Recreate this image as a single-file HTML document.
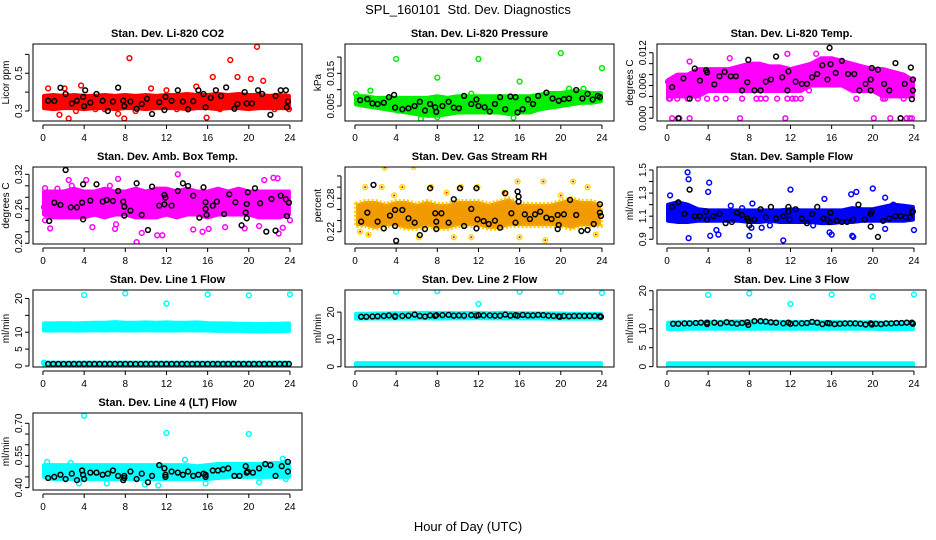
<!DOCTYPE html>
<html><head><meta charset="utf-8"><style>
html,body{margin:0;padding:0;background:#fff}
svg{display:block;font-family:"Liberation Sans",sans-serif}
</style></head><body>
<svg id="chart" width="936" height="540" viewBox="0 0 936 540" xmlns="http://www.w3.org/2000/svg">
<rect width="936" height="540" fill="#fff"/>
<text x="468" y="14" font-size="13" text-anchor="middle" style="white-space:pre">SPL_160101  Std. Dev. Diagnostics</text>
<text x="468" y="531" font-size="13" text-anchor="middle">Hour of Day (UTC)</text>
<g id="panels"></g>
</svg>
<script>
const xTicks=[0,4,8,12,16,20,24];
const H=[0,1,2,3,4,5,6,7,8,9,10,11,12,13,14,15,16,17,18,19,20,21,22,23,24];
const H2=[0,24];

// Panel 1 CO2
const co2Lo=[.315,.31,.315,.315,.31,.315,.315,.31,.315,.315,.31,.315,.315,.315,.31,.315,.315,.31,.315,.315,.31,.315,.315,.315,.315];
const co2Hi=[.38,.385,.38,.385,.38,.38,.385,.38,.385,.38,.385,.38,.385,.385,.39,.385,.385,.39,.385,.39,.385,.385,.38,.385,.38];
const co2Black=[[0.5,.354],[1.1,.353],[1.7,.423],[2.2,.39],[2.8,.34],[3.3,.354],[3.9,.375],[4.0,.326],[4.1,.41],[4.6,.344],[5.2,.39],[5.8,.354],[6.3,.30],[6.8,.35],[7.3,.424],[7.8,.355],[7.9,.326],[8.5,.35],[9.1,.312],[9.6,.337],[10.1,.365],[10.6,.284],[11.3,.347],[11.8,.305],[11.9,.375],[12.5,.354],[13.1,.41],[13.6,.35],[14.1,.309],[14.6,.352],[15.1,.41],[15.6,.39],[15.8,.32],[16.3,.37],[16.8,.41],[17.3,.38],[17.8,.425],[18.6,.312],[18.9,.337],[19.6,.40],[19.8,.34],[20.3,.34],[20.9,.41],[21.3,.39],[22.1,.28],[22.6,.38],[23.1,.41],[23.6,.41],[23.8,.35],[23.7,.32]];
const co2Extra=[[0.5,.42],[1.6,.28],[2.1,.42],[2.5,.26],[3.7,.435],[5.1,.31],[7.3,.285],[7.9,.26],[8.4,.58],[10.5,.42],[12,.41],[14.9,.43],[15.9,.265],[16.5,.48],[18.2,.57],[18.9,.48],[20.2,.47],[20.8,.64],[21.4,.46],[23.9,.31],[3.2,.30],[6,.31],[9,.30],[13,.31],[17.2,.31],[22.5,.31]];

// Panel 2 pressure
const prLo=[.0055,.005,.0045,.004,.0035,.003,.0025,.002,.002,.0025,.003,.003,.003,.003,.003,.0025,.003,.003,.004,.0045,.005,.0055,.006,.006,.0065];
const prHi=[.008,.008,.0075,.0075,.0075,.0075,.0075,.0075,.008,.0075,.008,.008,.008,.008,.008,.008,.008,.008,.0085,.009,.009,.0095,.0095,.009,.009];
const prBlack=[[0.5,.0068],[1.2,.0071],[1.7,.0058],[2.2,.0056],[2.8,.006],[3.3,.0077],[3.8,.0084],[3.9,.0045],[4.6,.004],[5.2,.0043],[5.8,.005],[6.3,.0063],[6.8,.0036],[7.3,.0056],[7.8,.0046],[7.9,.0032],[8.5,.005],[9.1,.0063],[9.6,.0045],[10.1,.0043],[10.6,.0081],[11.3,.0056],[11.8,.007],[12,.005],[12.6,.0046],[13.1,.0033],[13.6,.0056],[14.1,.0077],[14.6,.004],[15.1,.0079],[15.6,.0077],[15.8,.003],[16.3,.004],[16.8,.007],[17.3,.0056],[17.8,.0081],[18.6,.0091],[19.2,.0073],[19.8,.0066],[20.3,.0071],[20.8,.0073],[21.5,.0099],[22.1,.0073],[22.6,.0087],[23.1,.007],[23.6,.0081],[23.8,.0077]];
const prExtra=[[0.1,.0087],[0.3,.0079],[1.5,.0097],[4,.0194],[8,.0137],[12,.0194],[16,.0125],[20,.0212],[24,.0166],[20.8,.0103],[22.2,.0103],[6.4,.0011],[15.4,.0014],[8,.0016],[4.2,.0036],[11.3,.0088]];

// Panel 3 Li-820 temp
const ltLo=[.004,.004,.004,.004,.005,.005,.005,.005,.005,.005,.005,.005,.005,.005,.006,.006,.006,.006,.005,.005,.005,.004,.004,.004,.004];
const ltHi=[.007,.008,.008,.009,.009,.009,.009,.0095,.01,.01,.0095,.0095,.009,.0095,.01,.011,.011,.0105,.01,.0095,.009,.009,.0085,.008,.007];
const ltBlack=[[0.5,.0057],[1.1,0],[1.6,.0073],[2.2,.0036],[2.7,.0091],[3.2,.0069],[3.8,.0088],[3.9,.0084],[4.6,.0062],[5.1,.0077],[5.6,.0085],[6.2,.0077],[6.7,.0077],[7.3,.0051],[7.8,.0066],[7.9,.0107],[8.5,.0051],[9.1,.0051],[9.6,.0067],[10.1,.0071],[10.6,.0113],[11.2,.0075],[11.7,.0051],[11.8,.0086],[12.5,.0067],[13.1,.0063],[13.6,.0063],[14.1,.0075],[14.6,.0081],[15.1,.0097],[15.6,.0071],[15.8,.0129],[15.9,.0099],[16.4,.0083],[17.0,.0105],[17.6,.0081],[18.2,.0081],[18.7,.0051],[19.3,.0063],[19.8,.0051],[19.8,.0071],[19.9,.0092],[20.5,.0089],[21.1,.0063],[21.6,.0051],[22.2,.0101],[22.7,0],[23.1,.0063],[23.7,.0093],[23.8,.0035],[23.9,.0071],[23.9,.0051]];
const ltExtra=[[0.1,.0067],[0.2,.0036],[0.5,0],[1.2,0],[2.2,0],[2.2,.0104],[3.9,.0036],[4.8,.0036],[6.1,.011],[7.1,0],[7.3,.0036],[10.7,.0036],[11.5,0],[11.7,.0036],[11.7,.0118],[13.8,.0051],[14.5,.0118],[18.4,.0036],[20.1,0],[21.2,.0036],[21.7,0],[22.7,0],[23.3,0],[23.6,0],[23.8,0],[12.5,.0036],[9.6,.0036],[5.7,.0036],[0.3,.0036],[1,.0036],[2,.0036],[3,.0036],[8.7,.0036],[9.1,.0036],[12.2,.0036],[13,.0036],[21,.0036],[23,.0036]];

// Panel 4 amb box temp
const abLo=[.25,.245,.245,.245,.245,.25,.245,.25,.25,.245,.245,.245,.25,.245,.25,.25,.245,.25,.25,.25,.25,.245,.245,.245,.25];
const abHi=[.29,.29,.29,.295,.29,.29,.295,.29,.29,.295,.29,.295,.295,.29,.295,.29,.29,.295,.29,.295,.29,.29,.29,.29,.29];
const abBlack=[[0.6,.2388],[1.1,.2707],[1.7,.2667],[2.2,.3275],[2.7,.2626],[3.3,.2626],[3.8,.2707],[3.9,.2417],[3.9,.3026],[4.6,.2742],[5.2,.3026],[5.8,.2725],[6.2,.2754],[6.8,.2736],[7.3,.291],[7.8,.2725],[7.9,.2638],[7.9,.2481],[8.5,.2568],[9.1,.3043],[9.6,.2493],[10.2,.2232],[10.6,.2986],[11.3,.2655],[11.8,.2841],[11.8,.2678],[11.9,.2794],[12.5,.2655],[13.1,.291],[13.6,.3043],[14.1,.2997],[14.6,.2829],[15.2,.2446],[15.6,.2974],[15.8,.2713],[15.8,.2597],[15.9,.2493],[16.5,.2655],[16.9,.2725],[17.6,.251],[18.1,.2852],[18.7,.2713],[19.3,.2313],[19.7,.2533],[19.8,.2684],[19.8,.2435],[19.9,.2887],[20.6,.2957],[21.1,.2696],[21.7,.2203],[22.2,.2771],[22.6,.222],[23.1,.2829],[23.6,.2765],[23.7,.2475],[23.9,.2707]];
const abExtra=[[0.1,.263],[0.2,.24],[0.2,.296],[0.7,.226],[2.5,.31],[4.2,.31],[4.8,.228],[7,.225],[7.1,.233],[7.3,.312],[9.1,.202],[9.6,.218],[11.1,.214],[11.6,.214],[13.1,.32],[14.6,.224],[15.5,.22],[16.1,.225],[17.7,.228],[19.6,.226],[21,.23],[21.5,.31],[22.4,.314],[22.8,.313],[22.9,.217],[23.3,.227],[24,.24],[1.4,.295],[2.8,.30],[6.5,.30]];

// Panel 5 RH
const rhLo=[.23,.23,.225,.23,.23,.225,.225,.23,.225,.225,.23,.23,.23,.225,.225,.23,.23,.23,.23,.23,.23,.225,.23,.23,.23];
const rhHi=[.27,.275,.275,.27,.275,.275,.27,.275,.27,.27,.275,.275,.275,.27,.275,.28,.27,.27,.27,.27,.275,.28,.275,.275,.27];
const rhBlack=[[0.6,.238],[1.2,.2542],[1.8,.304],[2.2,.238],[2.8,.226],[3.4,.2488],[3.9,.259],[3.9,.2302],[4.0,.2038],[4.6,.259],[5.2,.244],[5.8,.2362],[6.3,.214],[6.8,.2248],[7.3,.298],[7.8,.253],[7.9,.2248],[7.9,.238],[8.4,.253],[9.1,.2362],[9.6,.2782],[10.2,.298],[10.6,.2302],[11.3,.2608],[11.8,.298],[11.8,.226],[11.9,.2422],[12.5,.2392],[13.0,.2338],[13.6,.2398],[14.1,.2272],[14.6,.289],[15.2,.253],[15.6,.2362],[15.8,.292],[15.9,.274],[15.9,.283],[16.5,.2512],[17.0,.2428],[17.5,.2512],[18.0,.256],[18.6,.2452],[19.1,.2428],[19.7,.25],[19.7,.2248],[19.8,.232],[20.3,.2512],[20.9,.277],[21.5,.25],[22.0,.2212],[22.6,.223],[23.2,.2338],[23.8,.2692],[23.8,.2542],[23.9,.2482]];
const rhExtra=[[2.9,.335],[5.7,.336],[1,.30],[2.6,.30],[4.6,.30],[7.4,.30],[8.9,.29],[10.3,.30],[11.9,.30],[14.5,.29],[15.8,.31],[18.3,.31],[21.2,.31],[22.6,.30],[0.5,.22],[1.3,.215],[6.2,.21],[9.6,.21],[11.3,.21],[16.0,.21],[18.5,.205],[23.4,.215],[3.8,.285],[20,.285]];

// Panel 6 sample flow
const sfLo=[1.06,1.05,1.05,1.06,1.06,1.06,1.06,1.06,1.05,1.05,1.06,1.05,1.05,1.05,1.05,1.04,1.04,1.05,1.05,1.06,1.06,1.06,1.06,1.06,1.07];
const sfHi=[1.2,1.22,1.2,1.16,1.15,1.15,1.15,1.15,1.15,1.15,1.15,1.15,1.16,1.15,1.15,1.15,1.15,1.15,1.17,1.16,1.16,1.18,1.2,1.19,1.18];
const sfBlack=[[0.5,1.18],[1.1,1.22],[1.7,1.12],[2.2,1.33],[2.7,1.10],[3.2,1.10],[3.8,1.14],[3.9,1.07],[4.5,1.10],[5.1,1.12],[5.7,1.04],[6.3,1.05],[6.8,1.13],[7.3,1.11],[7.8,1.08],[7.9,1.06],[8.0,1.02],[8.5,1.07],[9.1,1.16],[9.6,1.09],[10.1,1.18],[10.6,1.08],[11.3,1.10],[11.8,1.18],[11.8,1.14],[11.9,1.07],[12.5,1.16],[13.1,1.08],[13.6,1.04],[14.1,1.12],[14.6,1.18],[15.2,1.08],[15.6,1.07],[15.8,1.05],[15.9,1.13],[16.5,1.06],[17,1.05],[17.5,1.05],[18.1,1.07],[18.6,1.20],[19.2,1.07],[19.8,1.01],[19.8,1.12],[19.9,1.14],[20.5,0.92],[21,1.06],[21.6,1.08],[22.2,1.10],[22.7,1.10],[23.2,1.09],[23.6,1.09],[23.8,1.14],[23.9,1.14]];
const sfExtra=[[2,1.48],[2.1,1.42],[2.1,.91],[4.1,1.39],[4.0,1.31],[4.2,.93],[4.8,.98],[5.0,.94],[0.3,1.28],[8,.93],[8.3,1.21],[8.2,1.0],[11.3,.89],[12.0,1.33],[15.3,1.25],[15.8,.96],[16.0,.94],[18,.93],[18.1,.92],[17.9,1.29],[18.4,1.31],[20,1.34],[21.2,1.26],[21.2,.99],[24,.98],[9.2,1.0],[14.2,1.02],[6.2,1.19],[7.3,1.17],[10,1.02],[22,1.2]];

// Panel 7 line 1
const l1Lo=[10.5,10.5,10.6,10.5,10.5,10.6,10.5,10.6,10.5,10.5,10.6,10.5,10.5,10.5,10.6,10.5,10.5,10.4,10.4,10.4,10.3,10.2,10.3,10.3,10.4];
const l1Hi=[12.6,12.6,12.7,12.6,12.7,12.8,12.8,13.0,12.8,12.8,12.9,12.8,12.9,12.8,12.8,12.9,12.7,12.6,12.6,12.5,12.5,12.4,12.5,12.5,12.6];
const l1ZeroLo=[0.1,0.1];
const l1ZeroHi=[1.0,1.0];
const l1Black=[[0.5,.6],[1,.6],[1.5,.6],[2,.6],[2.5,.6],[3,.6],[3.5,.6],[4,.6],[4.5,.6],[5,.6],[5.5,.6],[6,.6],[6.5,.6],[7,.6],[7.5,.6],[8,.6],[8.5,.6],[9,.6],[9.5,.6],[10,.6],[10.5,.6],[11,.6],[11.5,.6],[12,.6],[12.5,.6],[13,.6],[13.5,.6],[14,.6],[14.5,.6],[15,.6],[15.5,.6],[16,.6],[16.5,.6],[17,.6],[17.5,.6],[18,.6],[18.5,.6],[19,.6],[19.5,.6],[20,.6],[20.5,.6],[21,.6],[21.5,.6],[22,.6],[22.5,.6],[23,.6],[23.5,.6],[23.9,.6]];
const l1Extra=[[4,21],[8,21.5],[12,18.5],[16,21.2],[20,20.9],[24,21.2],[0.1,1]];

// Panel 8 line 2
const l2Lo=[17.6,17.6,17.7,17.6,17.7,17.6,17.7,17.7,17.6,17.7,17.7,17.7,17.8,17.7,17.7,17.7,17.7,17.7,17.7,17.6,17.6,17.6,17.6,17.6,17.6];
const l2Hi=[19.4,19.4,19.5,19.5,19.6,19.6,19.7,19.7,19.7,19.7,19.6,19.7,19.7,19.6,19.7,19.7,19.6,19.6,19.5,19.5,19.5,19.4,19.4,19.4,19.4];
const l2ZeroLo=[0.1,0.1];
const l2ZeroHi=[1.3,1.3];
const l2Black=[[0.6,18.3],[1.1,18.3],[1.7,18.4],[2.2,18.5],[2.8,18.6],[3.3,18.8],[3.9,18.6],[3.9,18.3],[4.6,18.6],[5.2,18.7],[5.8,19.1],[6.3,18.6],[6.8,18.4],[7.3,18.8],[7.8,18.6],[7.9,18.9],[8.5,18.9],[9.1,19.0],[9.6,18.7],[10.1,18.8],[10.6,18.7],[11.3,18.9],[11.8,18.7],[12,18.9],[12.5,18.8],[13.1,18.8],[13.6,18.7],[14.1,18.7],[14.6,19.1],[15.1,18.7],[15.6,18.9],[15.8,18.7],[16.3,19.0],[16.8,18.8],[17.3,18.8],[17.8,19.0],[18.3,18.9],[18.8,18.7],[19.3,18.6],[19.8,18.5],[19.9,18.3],[20.3,18.6],[20.8,18.5],[21.3,18.6],[21.8,18.6],[22.3,18.6],[22.8,18.6],[23.3,18.6],[23.8,18.5],[23.9,18.3]];
const l2Extra=[[4,27.5],[8,27.7],[12,23],[16,27.5],[20,27.5],[24,27]];

// Panel 9 line 3
const l3Lo=[9.9,9.9,10,10,10,10,10,10,10,10,10,10,10,10,10,10,10,10,10,10,10,9.9,9.9,9.9,9.9];
const l3Hi=[11.6,11.7,11.7,11.7,11.8,11.8,11.9,11.9,11.9,11.9,11.8,11.8,11.8,11.8,11.8,11.8,11.8,11.7,11.7,11.7,11.7,11.6,11.6,11.6,11.6];
const l3ZeroLo=[0.1,0.1];
const l3ZeroHi=[0.9,0.9];
const l3Black=[[0.6,11.3],[1.1,11.3],[1.7,11.4],[2.2,11.4],[2.8,11.5],[3.3,11.6],[3.9,11.6],[3.9,11.2],[4.6,11.6],[5.2,11.4],[5.8,11.7],[6.3,11.5],[6.8,11.3],[7.3,11.5],[7.8,11.7],[7.9,11.0],[8.5,12.0],[9.1,12.0],[9.6,11.9],[10.1,11.7],[10.6,11.6],[11.3,11.4],[11.8,11.6],[12,11.3],[12.5,11.4],[13.1,11.4],[13.6,11.5],[14.1,11.8],[14.6,11.6],[15.1,11.2],[15.6,11.5],[15.8,11.4],[16.3,11.2],[16.8,11.3],[17.3,11.4],[17.8,11.4],[18.3,11.4],[18.8,11.3],[19.3,11.1],[19.8,11.4],[19.9,11.1],[20.3,11.3],[20.8,11.2],[21.3,11.4],[21.8,11.4],[22.3,11.5],[22.8,11.5],[23.3,11.6],[23.8,11.6],[23.9,11.3]];
const l3Extra=[[4,18.9],[8,19.3],[12,16.5],[16,19],[20,18.5],[24,19]];

// Panel 10 line 4
const l4Lo=[.45,.44,.44,.44,.44,.44,.44,.44,.44,.44,.44,.44,.44,.44,.44,.44,.44,.445,.45,.45,.45,.45,.45,.45,.45];
const l4Hi=[.505,.505,.505,.505,.505,.505,.505,.505,.505,.505,.505,.505,.505,.505,.505,.50,.505,.51,.51,.51,.51,.51,.515,.515,.515];
const l4Black=[[0.5,.445],[1.1,.45],[1.7,.46],[2.2,.44],[2.8,.465],[3.3,.435],[3.8,.48],[3.9,.46],[4.0,.44],[4.6,.47],[5.2,.47],[5.8,.46],[6.3,.465],[6.8,.48],[7.3,.455],[7.8,.435],[7.9,.455],[7.9,.445],[8.5,.475],[9.1,.44],[9.6,.465],[10.2,.425],[10.6,.455],[11.3,.505],[11.8,.49],[11.9,.46],[11.9,.45],[12.5,.475],[13.1,.47],[13.6,.46],[14.1,.475],[14.6,.455],[15.1,.46],[15.6,.465],[15.8,.46],[15.8,.45],[16.5,.48],[17,.48],[17.5,.485],[18,.49],[18.6,.455],[19.1,.455],[19.7,.50],[19.8,.47],[19.9,.475],[20.4,.47],[21,.49],[21.6,.51],[22.1,.505],[22.6,.455],[23.2,.50],[23.8,.52],[23.8,.475]];
const l4Extra=[[4,.735],[12,.655],[13.8,.53],[20,.65],[23.3,.535],[0.4,.52],[2.7,.515],[11.2,.41],[9.9,.415],[3.5,.42],[6.2,.42],[21,.425],[15.8,.42],[23.6,.44]];

const panels=[
 {id:'co2',col:0,row:0,title:'Stan. Dev. Li-820 CO2',ylab:'Licor ppm',ymin:.247,ymax:.655,ticks:[.3,.4,.5,.6],labels:['0.3','','0.5',''],color:'#ff0000',bands:[[H,co2Lo,co2Hi]],extra:co2Extra,black:co2Black},
 {id:'pressure',col:1,row:0,title:'Stan. Dev. Li-820 Pressure',ylab:'kPa',ymin:.0004,ymax:.024,ticks:[.005,.010,.015,.020],labels:['0.005','','0.015',''],color:'#00ee00',bands:[[H,prLo,prHi]],extra:prExtra,black:prBlack},
 {id:'li820-temp',col:2,row:0,title:'Stan. Dev. Li-820 Temp.',ylab:'degrees C',ymin:-.0005,ymax:.0136,ticks:[0,.002,.004,.006,.008,.010,.012],labels:['0.000','','','0.006','','','0.012'],color:'#ff00ff',bands:[[H,ltLo,ltHi]],extra:ltExtra,black:ltBlack},
 {id:'amb-box-temp',col:0,row:1,title:'Stan. Dev. Amb. Box Temp.',ylab:'degrees C',ymin:.1988,ymax:.3327,ticks:[.20,.22,.24,.26,.28,.30,.32],labels:['0.20','','','0.26','','','0.32'],color:'#ff00ff',bands:[[H,abLo,abHi]],extra:abExtra,black:abBlack},
 {id:'gas-rh',col:1,row:1,title:'Stan. Dev. Gas Stream RH',ylab:'percent',ymin:.198,ymax:.336,ticks:[.22,.24,.26,.28,.30,.32],labels:['0.22','','','0.28','',''],color:'#f5b400',rh:true,bands:[[H,rhLo,rhHi]],extra:rhExtra,black:rhBlack},
 {id:'sample-flow',col:2,row:1,title:'Stan. Dev. Sample Flow',ylab:'ml/min',ymin:.859,ymax:1.526,ticks:[.9,1.0,1.1,1.2,1.3,1.4,1.5],labels:['0.9','','1.1','','1.3','','1.5'],color:'#0000ff',bands:[[H,sfLo,sfHi]],extra:sfExtra,black:sfBlack},
 {id:'line1-flow',col:0,row:2,title:'Stan. Dev. Line 1 Flow',ylab:'ml/min',ymin:-.3,ymax:22.5,ticks:[0,5,10,15,20],labels:['0','5','10','','20'],color:'#00ffff',bands:[[H,l1Lo,l1Hi],[H2,l1ZeroLo,l1ZeroHi]],extra:l1Extra,black:l1Black},
 {id:'line2-flow',col:1,row:2,title:'Stan. Dev. Line 2 Flow',ylab:'ml/min',ymin:-.1,ymax:28.1,ticks:[0,10,20],labels:['0','10','20'],color:'#00ffff',bands:[[H,l2Lo,l2Hi],[H2,l2ZeroLo,l2ZeroHi]],extra:l2Extra,black:l2Black},
 {id:'line3-flow',col:2,row:2,title:'Stan. Dev. Line 3 Flow',ylab:'ml/min',ymin:-.1,ymax:20.2,ticks:[0,5,10,15,20],labels:['0','5','10','','20'],color:'#00ffff',bands:[[H,l3Lo,l3Hi],[H2,l3ZeroLo,l3ZeroHi]],extra:l3Extra,black:l3Black},
 {id:'line4-flow',col:0,row:3,title:'Stan. Dev. Line 4 (LT) Flow',ylab:'ml/min',ymin:.389,ymax:.748,ticks:[.40,.45,.50,.55,.60,.65,.70],labels:['0.40','','','0.55','','','0.70'],color:'#00ffff',bands:[[H,l4Lo,l4Hi]],extra:l4Extra,black:l4Black}
];

const NS='http://www.w3.org/2000/svg';
const root=document.getElementById('panels');
function mk(tag,attrs,parent){const e=document.createElementNS(NS,tag);for(const k in attrs)e.setAttribute(k,attrs[k]);parent.appendChild(e);return e;}
const BOXW=269,BOXH=77,XMIN=-0.97,XMAX=25.17;

panels.forEach(p=>{
  const L=33+312*p.col, T=44+123*p.row, B=T+BOXH, R=L+BOXW;
  const sx=v=>L+(v-XMIN)/(XMAX-XMIN)*BOXW;
  const sy=v=>B-(v-p.ymin)/(p.ymax-p.ymin)*BOXH;
  const g=mk('g',{},root);
  
  
  const clip=mk('clipPath',{id:'clip-'+p.id},g);
  mk('rect',{x:L,y:T,width:BOXW,height:BOXH},clip);
  const plot=mk('g',{'clip-path':'url(#clip-'+p.id+')'},g);
  p.bands.forEach(b=>{
    const hrs=b[0],lo=b[1],hi=b[2];
    let pts=[];
    for(let i=0;i<hrs.length;i++){const hx=Math.min(Math.max(hrs[i],0.1),23.9);pts.push(sx(hx)+','+sy(hi[i]));}
    for(let i=hrs.length-1;i>=0;i--){const hx=Math.min(Math.max(hrs[i],0.1),23.9);pts.push(sx(hx)+','+sy(lo[i]));}
    const poly=mk('polygon',{points:pts.join(' '),fill:p.color,stroke:p.rh?'#ffd000':p.color,'stroke-width':4,'stroke-linejoin':'round','stroke-dasharray':p.rh?'2 2':'none'},plot);
    
    
    if(p.rh){const ov=mk('polygon',{points:pts.join(' '),fill:'#e85000','fill-opacity':0.25,stroke:'none'},plot);
      
      }
  });
  p.extra.forEach(d=>{
    const c=mk('circle',{cx:sx(d[0]),cy:sy(d[1]),r:2.4,fill:'none',stroke:p.rh?'#ffdd00':p.color,'stroke-width':1.5},plot);
    
    
    if(p.rh){const cc=mk('circle',{cx:sx(d[0]),cy:sy(d[1]),r:1,fill:'#ff0000'},plot);
      
      }
  });
  p.black.forEach(d=>{
    const c=mk('circle',{cx:sx(d[0]),cy:sy(d[1]),r:2.4,fill:'none',stroke:'#000','stroke-width':1.5},plot);
    
    
  });
  const box=mk('rect',{x:L,y:T,width:BOXW,height:BOXH,fill:'none',stroke:'#000','stroke-width':1},g);
  
  
  const ttl=mk('text',{x:(L+R)/2,y:T-7,'font-size':11,'font-weight':'bold','text-anchor':'middle'},g);
  ttl.textContent=p.title;
  
  
  const xa=mk('g',{},g);
  
  
  mk('line',{x1:sx(0),x2:sx(24),y1:B+4,y2:B+4,stroke:'#000'},xa);
  xTicks.forEach(t=>{
    mk('line',{x1:sx(t),x2:sx(t),y1:B+4,y2:B+8,stroke:'#000'},xa);
    const tx=mk('text',{x:sx(t),y:B+20,'font-size':10,'text-anchor':'middle'},xa);
    tx.textContent=t;
    
    
  });
  const ya=mk('g',{},g);
  
  
  mk('line',{x1:L-4,x2:L-4,y1:sy(p.ticks[0]),y2:sy(p.ticks[p.ticks.length-1]),stroke:'#000'},ya);
  p.ticks.forEach((t,i)=>{
    mk('line',{x1:L-8,x2:L-4,y1:sy(t),y2:sy(t),stroke:'#000'},ya);
    if(p.labels[i]){
      const tx=mk('text',{x:0,y:0,'font-size':10,'text-anchor':'middle',transform:'translate('+(L-11)+','+sy(t)+') rotate(-90)'},ya);
      tx.textContent=p.labels[i];
      
      
    }
  });
  const yt=mk('text',{x:0,y:0,'font-size':10,'text-anchor':'middle',transform:'translate('+(L-24)+','+((T+B)/2)+') rotate(-90)'},g);
  yt.textContent=p.ylab;
  
  
});
</script>
</body></html>
